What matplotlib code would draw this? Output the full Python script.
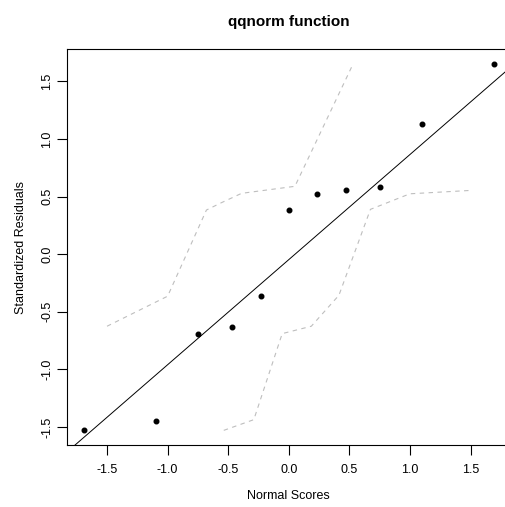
import matplotlib
matplotlib.use("Agg")
import matplotlib.pyplot as plt

# normal scores and standardized residuals
normal_scores = [-1.69, -1.10, -0.75, -0.47, -0.23, 0.0, 0.23, 0.47, 0.75, 1.10, 1.69]
std_residuals = [-1.53, -1.446, -0.696, -0.63, -0.363, 0.38, 0.519, 0.554, 0.583, 1.128, 1.65]

# reference line (qqline)
line_intercept = -0.047
line_slope = 0.913

# envelope (dashed)
upper_x = [-1.50, -1.00, -0.68, -0.57, -0.39, 0.05, 0.53]
upper_y = [-0.626, -0.365, 0.383, 0.44, 0.528, 0.589, 1.652]
lower_x = [-0.537, -0.289, -0.055, 0.185, 0.413, 0.673, 0.998, 1.493]
lower_y = [-1.530, -1.437, -0.690, -0.626, -0.357, 0.389, 0.524, 0.553]

xticks = [-1.5, -1.0, -0.5, 0.0, 0.5, 1.0, 1.5]
yticks = [-1.5, -1.0, -0.5, 0.0, 0.5, 1.0, 1.5]

plt.rcParams['font.family'] = ['Liberation Sans', 'DejaVu Sans']

fig = plt.figure(figsize=(5.05, 5.07), dpi=100)
ax = fig.add_axes([0.1327, 0.1223, 0.8786, 0.7801])

ax.plot(upper_x, upper_y, color='#bebebe', lw=0.8, dashes=(4, 4))
ax.plot(lower_x, lower_y, color='#bebebe', lw=0.8, dashes=(4, 4))
ax.axline((0, line_intercept), slope=line_slope, color='black', lw=0.7)
ax.plot(normal_scores, std_residuals, 'o', color='black', markersize=3.3)

ax.set_xlim(-1.83, 1.83)
ax.set_ylim(-1.657, 1.777)
ax.set_xticks(xticks)
ax.set_yticks(yticks)
ax.set_xticklabels([f"{t:.1f}" for t in xticks])
ax.set_yticklabels([f"{t:.1f}" for t in yticks], rotation=90, va='center')
ax.tick_params(direction='out', length=7, width=0.8, labelsize=9, pad=7)
ax.tick_params(axis='y', pad=3)
for s in ax.spines.values():
    s.set_linewidth(0.8)

ax.set_xlabel("Normal Scores", fontsize=9, labelpad=10)
ax.set_ylabel("Standardized Residuals", fontsize=9, labelpad=10)
ax.set_title("qqnorm function", fontsize=11, fontweight='bold', pad=17)

fig.savefig("out.png", dpi=100)
